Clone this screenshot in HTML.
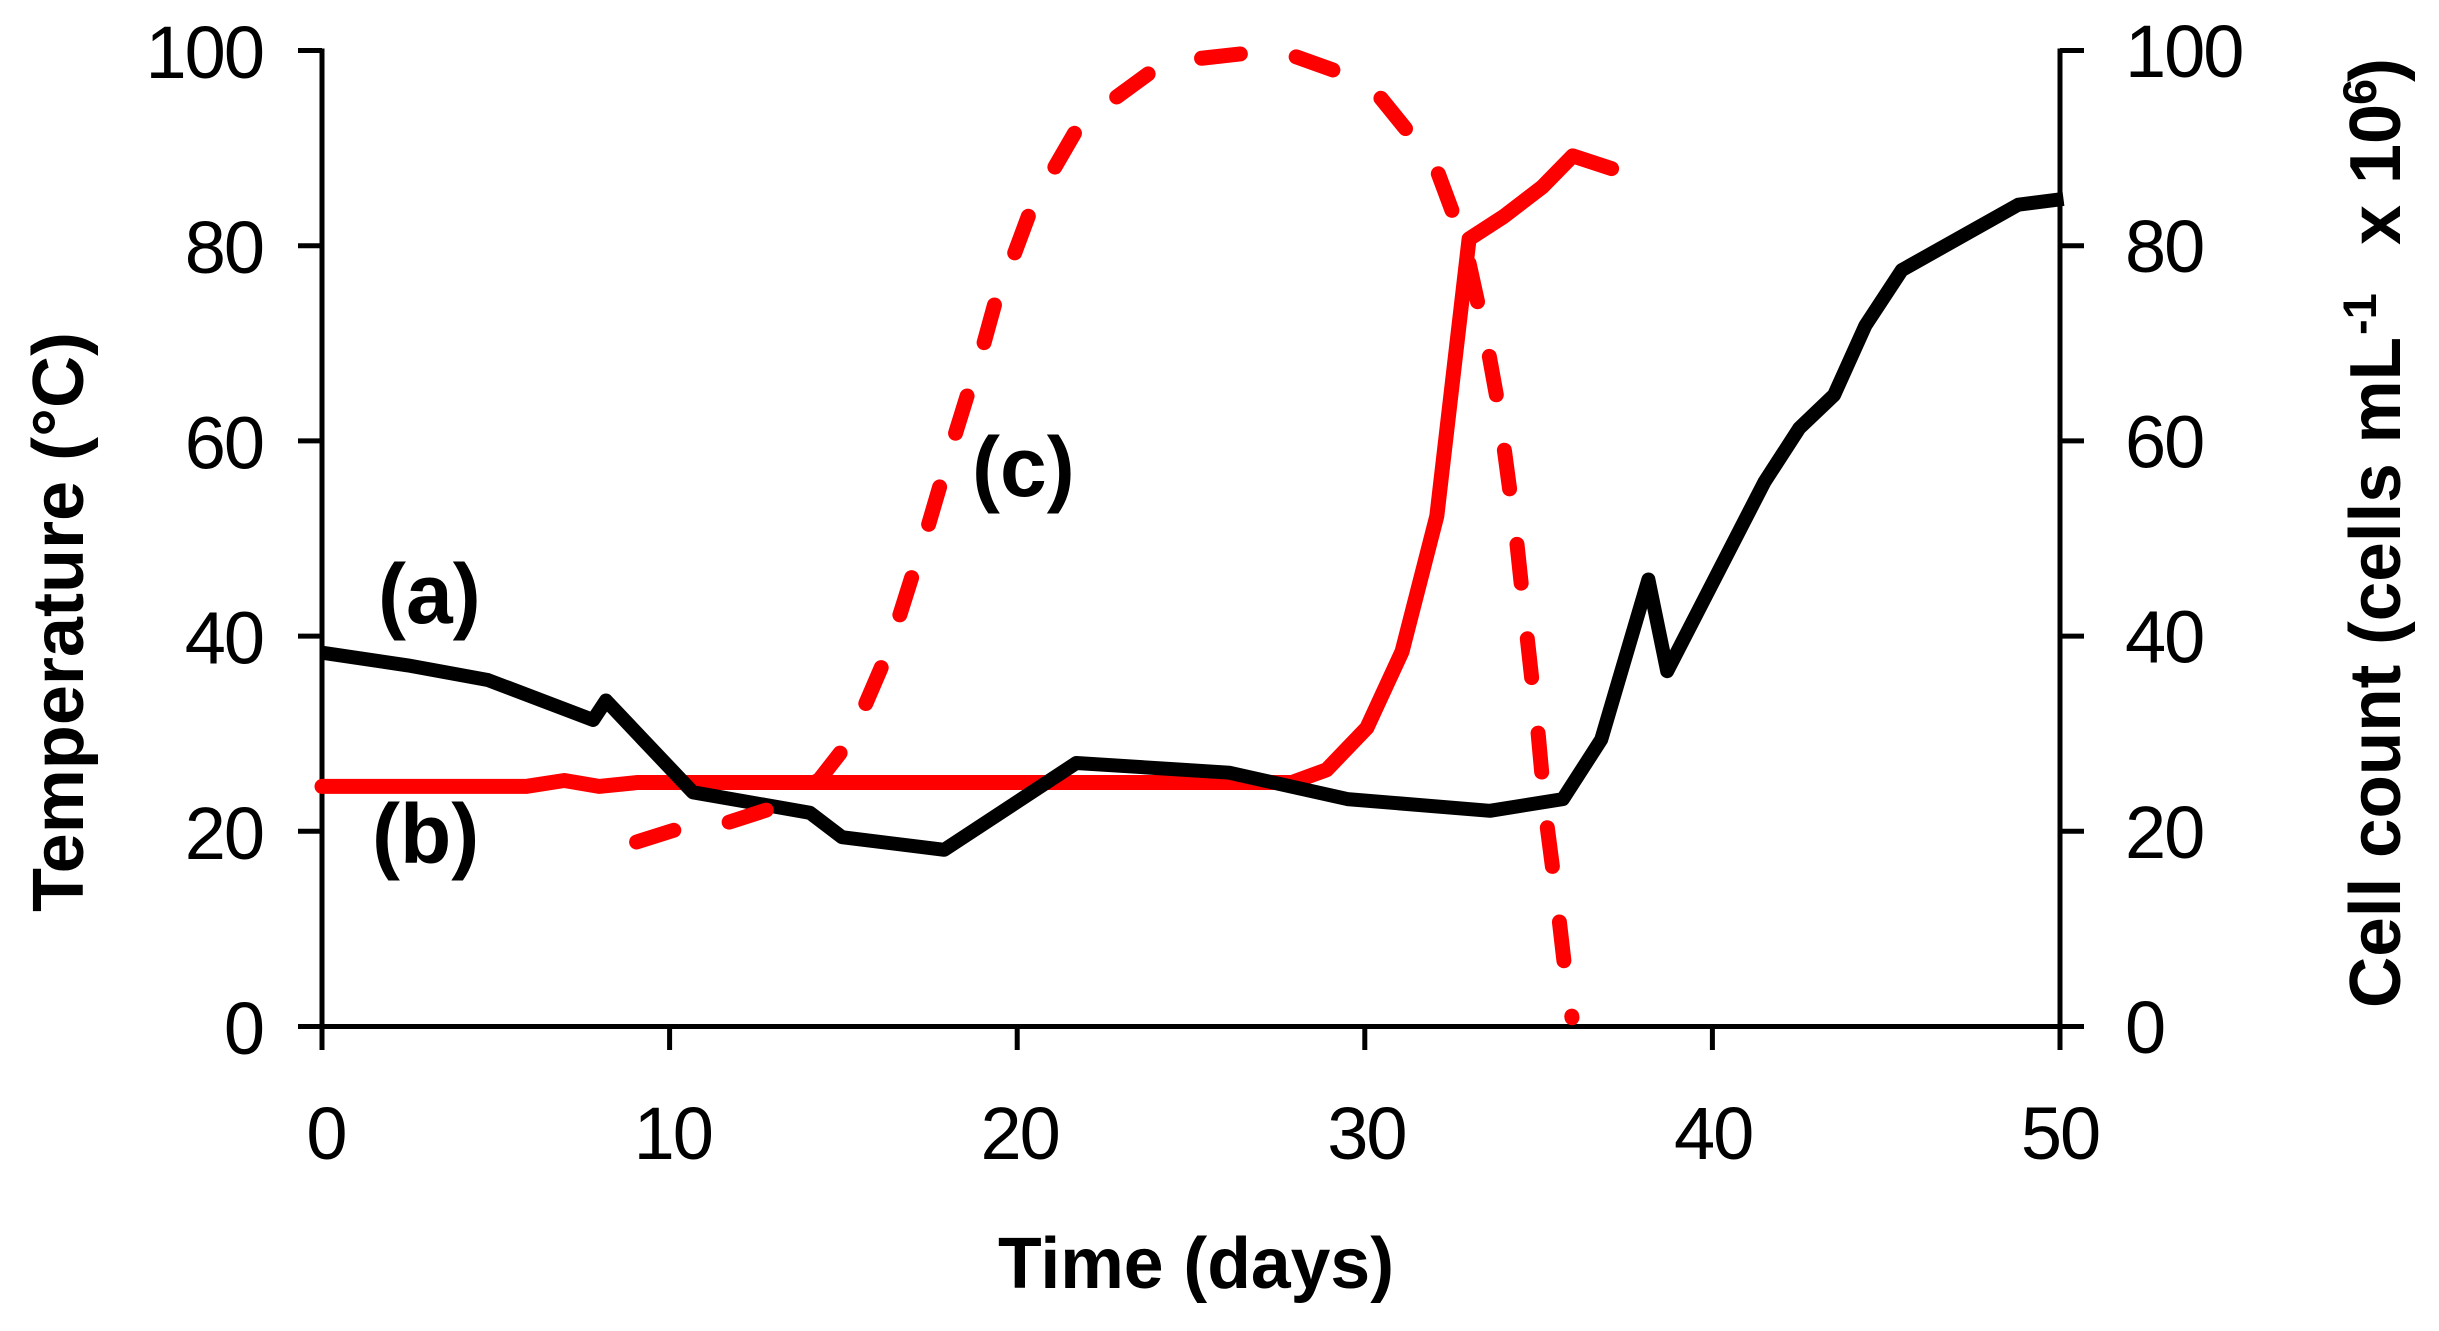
<!DOCTYPE html>
<html lang="en">
<head>
<meta charset="utf-8">
<title>Temperature and cell count over time</title>
<style>
html,body{margin:0;padding:0;background:#fff;}
svg{display:block;}
text{font-family:"Liberation Sans",Arial,sans-serif;fill:#000;}
.tick{font-size:74px;letter-spacing:-2px;}
.title{font-size:72px;font-weight:bold;}
.note{font-size:84px;font-weight:bold;}
</style>
</head>
<body>
<svg id="chart" xmlns="http://www.w3.org/2000/svg" width="2439" height="1331" viewBox="0 0 2439 1331">
  <rect width="2439" height="1331" fill="#fff"/>
  <g id="axes"></g>
  <g id="series"></g>
  <text class="title" transform="translate(83 912) rotate(-90)" textLength="580" lengthAdjust="spacingAndGlyphs">Temperature (°C)</text>
  <text class="title" x="998" y="1288" textLength="396" lengthAdjust="spacingAndGlyphs">Time (days)</text>
  <text class="title" transform="translate(2400 1008) rotate(-90)"><tspan x="0" y="0" textLength="671" lengthAdjust="spacingAndGlyphs">Cell count (cells mL</tspan><tspan x="673" y="-24" font-size="47">-1</tspan><tspan x="763" y="0">x</tspan><tspan x="824" y="0">10</tspan><tspan x="903" y="-24" font-size="47">6</tspan><tspan x="926" y="0">)</tspan></text>
  <text class="note" x="378" y="623">(a)</text>
  <text class="note" x="372" y="863">(b)</text>
  <text class="note" x="972" y="496">(c)</text>
</svg>
<script>
const xTicks = [0, 10, 20, 30, 40, 50];
const yTicks = [0, 20, 40, 60, 80, 100];

const seriesADays = [0, 2.47, 4.77, 7.8, 8.17, 10.67, 14.04, 14.96, 17.9, 21.7, 26.1, 29.5, 33.6, 35.7, 36.8, 38.16, 38.7, 41.5, 42.5, 43.5, 44.4, 45.45, 48.8, 50.1];
const seriesAValues = [38.3, 37.0, 35.5, 31.4, 33.4, 24.0, 21.9, 19.4, 18.1, 27.0, 26.0, 23.3, 22.1, 23.3, 29.4, 45.8, 36.4, 55.8, 61.3, 64.7, 71.8, 77.5, 84.2, 84.8];

const seriesBDays = [0, 5.87, 6.97, 7.97, 9.08, 27.9, 28.9, 30.06, 31.07, 32.07, 33.0, 34.0, 35.1, 35.98, 37.1];
const seriesBValues = [24.6, 24.6, 25.2, 24.6, 25.0, 25.0, 26.3, 30.6, 38.4, 52.3, 80.7, 83.0, 86.0, 89.2, 87.9];

const seriesCDays = [9.05, 10.21, 11.68, 12.89, 14.31, 14.99, 15.62, 16.14, 16.6, 17.0, 17.43, 17.81, 18.21, 18.61, 19.02, 19.39, 19.91, 20.37, 21.06, 21.71, 22.81, 23.88, 25.29, 26.57, 27.99, 29.17, 30.42, 31.24, 32.08, 32.54, 33.0, 33.26, 33.57, 33.8, 34.0, 34.18, 34.37, 34.51, 34.66, 34.81, 34.97, 35.1, 35.24, 35.41, 35.59, 35.74, 35.96];
const seriesCValues = [18.9, 20.2, 20.9, 22.3, 25.3, 28.4, 32.9, 37.2, 41.9, 46.4, 51.2, 55.8, 60.6, 65.2, 69.7, 74.5, 79.1, 83.5, 87.9, 91.9, 95.1, 97.9, 99.2, 99.7, 99.4, 97.9, 95.3, 91.7, 87.7, 83.3, 78.2, 74.0, 68.9, 64.4, 59.5, 54.7, 49.7, 45.0, 40.2, 35.4, 30.6, 25.6, 20.7, 16.0, 11.0, 6.4, 0.9];

const NS = 'http://www.w3.org/2000/svg';
const xAxis = v => 322 + v * 34.76;
const yAxis = v => 1026.5 - v * 9.76;
const axes = document.getElementById('axes');
const series = document.getElementById('series');

function line(parent, x1, y1, x2, y2) {
  const el = document.createElementNS(NS, 'line');
  el.setAttribute('x1', x1);
  el.setAttribute('y1', y1);
  el.setAttribute('x2', x2);
  el.setAttribute('y2', y2);
  el.setAttribute('stroke', '#000');
  el.setAttribute('stroke-width', 5);
  parent.appendChild(el);
  return el;
}

function label(parent, x, y, anchor, value) {
  const el = document.createElementNS(NS, 'text');
  el.setAttribute('class', 'tick');
  el.setAttribute('x', x);
  el.setAttribute('y', y);
  el.setAttribute('text-anchor', anchor);
  el.textContent = value;
  parent.appendChild(el);
  return el;
}

function trace(days, values, color, width, cap, dash) {
  const el = document.createElementNS(NS, 'path');
  el.setAttribute('d', days.map((d, i) => (i ? 'L' : 'M') + xAxis(d).toFixed(1) + ' ' + yAxis(values[i]).toFixed(1)).join(' '));
  el.setAttribute('fill', 'none');
  el.setAttribute('stroke', color);
  el.setAttribute('stroke-width', width);
  el.setAttribute('stroke-linecap', cap);
  el.setAttribute('stroke-linejoin', 'round');
  if (dash) el.setAttribute('stroke-dasharray', dash);
  series.appendChild(el);
  return el;
}

const leftAxis = line(axes, xAxis(0), yAxis(100) - 2, xAxis(0), 1050);



const rightAxis = line(axes, xAxis(50), yAxis(100) - 2, xAxis(50), 1050);



const bottomAxis = line(axes, xAxis(0) - 24, yAxis(0), xAxis(50) + 24, yAxis(0));



yTicks.forEach(v => {
  const leftTick = line(axes, xAxis(0) - 24, yAxis(v), xAxis(0), yAxis(v));
  
  

  const rightTick = line(axes, xAxis(50), yAxis(v), xAxis(50) + 24, yAxis(v));
  
  

  const leftLabel = label(axes, 263, yAxis(v) + 27.5, 'end', v);
  
  

  const rightLabel = label(axes, 2125, yAxis(v) + 26.5, 'start', v);
  
  
});

xTicks.forEach(v => {
  const tick = line(axes, xAxis(v), yAxis(0), xAxis(v), 1050);
  
  

  const tickLabel = label(axes, xAxis(v) + 4 - v * 0.08, 1159, 'middle', v);
  
  
});

const seriesB = trace(seriesBDays, seriesBValues, '#ff0000', 15, 'round');



const seriesA = trace(seriesADays, seriesAValues, '#000000', 14, 'butt');



const seriesC = trace(seriesCDays, seriesCValues, '#ff0000', 15, 'round', '39 56');


</script>
</body>
</html>
